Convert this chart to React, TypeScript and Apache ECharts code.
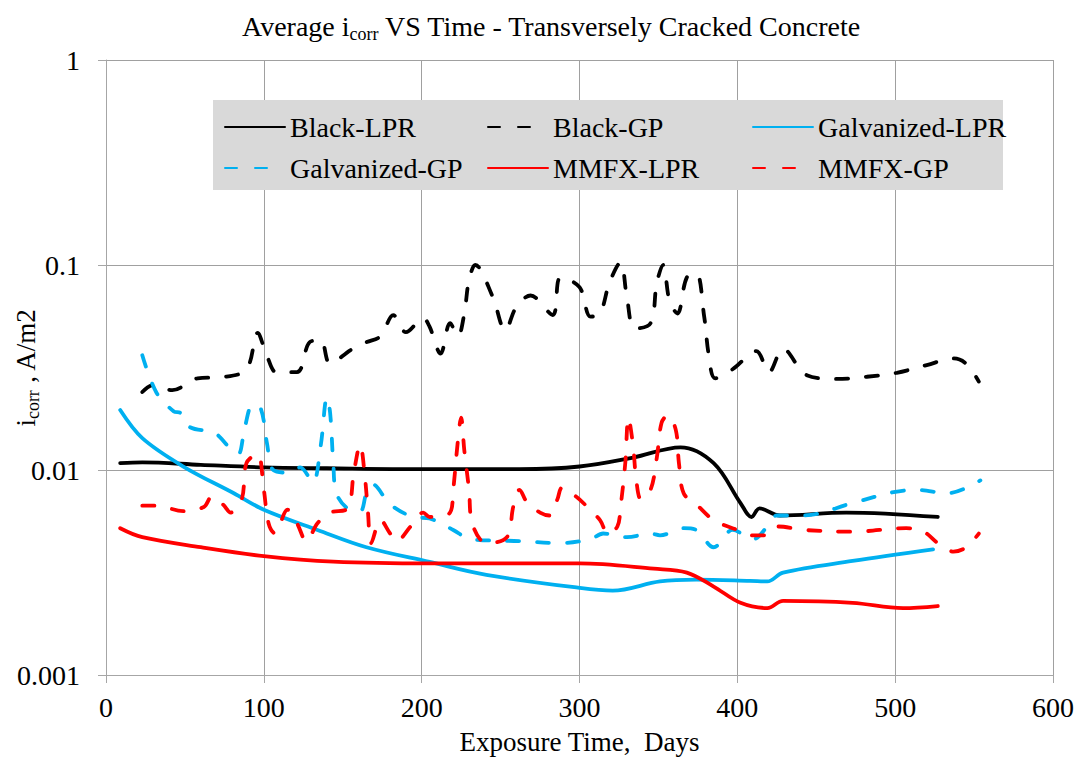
import React, { useEffect, useRef } from "react";
import * as echarts from "echarts";

const FONT = "Liberation Serif";

const xTicks = [0, 100, 200, 300, 400, 500, 600];
const yTicks = [0.001, 0.01, 0.1, 1];

const blackLprX = [9, 23, 60, 100, 140, 200, 262, 300, 334, 364, 385, 402, 409, 414, 427, 469, 527];
const blackLprY = [0.0108, 0.0109, 0.0106, 0.0103, 0.0102, 0.0101, 0.0101, 0.0104, 0.0115, 0.0129, 0.0108, 0.0069, 0.0059, 0.0065, 0.006, 0.0062, 0.0059];

const blackGpX = [23, 30, 42, 58, 74, 89, 96, 102, 108, 121, 129, 136, 142, 155, 165, 174, 182, 190, 201, 205, 212, 218, 223, 227, 230, 234, 245, 253, 260, 269, 283, 288, 300, 307, 313, 319, 326, 330, 335, 345, 349, 353, 357, 362, 368, 374, 379, 382, 386, 397, 412, 420, 429, 444, 463, 482, 501, 520, 537, 545, 553];
const blackGpY = [0.024, 0.026, 0.0245, 0.028, 0.0284, 0.031, 0.0466, 0.036, 0.03, 0.03, 0.042, 0.043, 0.033, 0.0385, 0.042, 0.045, 0.057, 0.047, 0.055, 0.05, 0.037, 0.052, 0.045, 0.058, 0.0845, 0.1, 0.07, 0.048, 0.0625, 0.071, 0.057, 0.087, 0.078, 0.056, 0.058, 0.082, 0.103, 0.07, 0.049, 0.052, 0.082, 0.1, 0.067, 0.058, 0.087, 0.091, 0.056, 0.036, 0.028, 0.031, 0.038, 0.03, 0.039, 0.029, 0.0278, 0.0285, 0.0298, 0.0325, 0.035, 0.033, 0.027];

const galvLprX = [9, 23, 49, 81, 100, 134, 165, 205, 241, 300, 321, 351, 374, 408, 419, 429, 473, 524];
const galvLprY = [0.0196, 0.0143, 0.0104, 0.0077, 0.0064, 0.0051, 0.0042, 0.00356, 0.00308, 0.00266, 0.00258, 0.00286, 0.00292, 0.00288, 0.00286, 0.00316, 0.0036, 0.0041];

const galvGpX = [23, 32, 43, 47, 53, 68, 72, 81, 84, 88, 93, 98, 102, 106, 117, 123, 131, 136, 140, 142, 144, 146, 153, 161, 165, 169, 180, 195, 205, 220, 231, 262, 288, 307, 315, 330, 345, 351, 366, 374, 385, 397, 410, 419, 425, 442, 473, 499, 514, 533, 554];
const galvGpY = [0.0363, 0.0238, 0.0193, 0.019, 0.0162, 0.0153, 0.0145, 0.0122, 0.012, 0.0162, 0.0208, 0.02, 0.0135, 0.01, 0.0097, 0.0103, 0.0087, 0.0131, 0.0226, 0.019, 0.0108, 0.0077, 0.0065, 0.0063, 0.0077, 0.0085, 0.0068, 0.0059, 0.0058, 0.0051, 0.0046, 0.0045, 0.0044, 0.0046, 0.0049, 0.0047, 0.0049, 0.0048, 0.0052, 0.0051, 0.0042, 0.0051, 0.0046, 0.0053, 0.006, 0.006, 0.0069, 0.0078, 0.008, 0.0077, 0.0089];

const mmfxLprX = [9, 23, 60, 100, 144, 205, 300, 347, 368, 385, 402, 419, 429, 473, 505, 527];
const mmfxLprY = [0.0052, 0.0047, 0.0042, 0.0038, 0.00357, 0.0035, 0.0035, 0.0033, 0.00316, 0.0027, 0.00225, 0.00212, 0.0023, 0.00225, 0.00212, 0.00217];

const mmfxGpX = [23, 32, 49, 62, 67, 74, 79, 86, 89, 96, 100, 103, 107, 115, 121, 127, 134, 142, 153, 157, 161, 164, 166, 168, 174, 180, 184, 193, 201, 205, 218, 220, 223, 225, 227, 230, 232, 241, 254, 258, 262, 267, 275, 281, 286, 289, 298, 305, 313, 318, 324, 326, 329, 331, 334, 336, 339, 345, 349, 352, 356, 361, 363, 366, 374, 385, 400, 410, 419, 426, 442, 473, 507, 518, 527, 537, 545, 553];
const mmfxGpY = [0.0067, 0.0067, 0.0063, 0.0066, 0.0074, 0.0068, 0.0062, 0.0072, 0.0108, 0.012, 0.008, 0.0055, 0.0049, 0.0064, 0.0055, 0.0045, 0.0055, 0.0062, 0.0065, 0.0097, 0.0133, 0.0093, 0.0062, 0.0044, 0.0057, 0.0049, 0.0045, 0.0053, 0.0062, 0.0059, 0.0062, 0.008, 0.014, 0.018, 0.0125, 0.008, 0.0055, 0.0044, 0.0047, 0.0066, 0.008, 0.0069, 0.0062, 0.006, 0.0072, 0.0082, 0.0074, 0.0066, 0.0057, 0.0049, 0.0053, 0.0066, 0.0108, 0.018, 0.013, 0.0089, 0.0072, 0.008, 0.0115, 0.017, 0.0185, 0.0157, 0.0108, 0.0077, 0.0068, 0.0057, 0.0051, 0.0048, 0.0048, 0.0053, 0.0051, 0.005, 0.0052, 0.005, 0.0044, 0.004, 0.0042, 0.0049];

const seriesNames = ["Black-LPR", "Black-GP", "Galvanized-LPR", "Galvanized-GP", "MMFX-LPR", "MMFX-GP"];
const BLACK = "#000000";
const BLUE = "#00B0F0";
const RED = "#FF0000";

function pairs(xs: number[], ys: number[]) {
  return xs.map((x, i) => [x, ys[i]]);
}

export default function App() {
  const ref = useRef<HTMLDivElement>(null);
  useEffect(() => {
    if (!ref.current) return;
    const chart = echarts.init(ref.current, null, { renderer: "svg" });
    const dash = [12, 18];
    const mk = (name: string, xs: number[], ys: number[], color: string, dashed: boolean) => ({
      name,
      type: "line",
      data: pairs(xs, ys),
      smooth: 0.35,
      showSymbol: false,
      symbol: "none",
      lineStyle: { color, width: 3.8, type: dashed ? dash : "solid", cap: "round" },
      itemStyle: { color },
      z: 3,
    });
    const legendPos = [
      { left: 224, top: 113 },
      { left: 487, top: 113 },
      { left: 752, top: 113 },
      { left: 224, top: 154 },
      { left: 487, top: 154 },
      { left: 752, top: 154 },
    ];
    const txt = (size: number) => ({ fontFamily: FONT, fontSize: size, color: "#000", fontWeight: "normal" });
    chart.setOption({
      animation: false,
      backgroundColor: "#ffffff",
      textStyle: { fontFamily: FONT },
      title: {
        text: "{a|Average i}{s|corr}{a| VS Time - Transversely Cracked Concrete}",
        left: 237,
        top: 4,
        textStyle: {
          fontFamily: FONT,
          fontWeight: "normal",
          rich: {
            a: { ...txt(28), lineHeight: 34 },
            s: { ...txt(18), verticalAlign: "bottom", lineHeight: 18 },
          },
        },
      },
      graphic: [
        {
          type: "rect",
          shape: { x: 213, y: 100, width: 790, height: 90 },
          style: { fill: "#D9D9D9" },
          z: 10,
        },
      ],
      legend: seriesNames.map((n, i) => ({
        data: [n],
        left: legendPos[i].left,
        top: legendPos[i].top,
        itemWidth: 60,
        itemHeight: 14,
        itemGap: 0,
        padding: 0,
        z: 20,
        itemStyle: { opacity: 0 },
        textStyle: txt(28),
      })),
      grid: { left: 106, right: 27, top: 60, bottom: 85, containLabel: false, outerBoundsMode: "none" },
      xAxis: {
        type: "value",
        min: xTicks[0],
        max: xTicks[xTicks.length - 1],
        interval: 100,
        name: "Exposure Time,  Days",
        nameLocation: "middle",
        nameGap: 53,
        nameMoveOverlap: false,
        nameTextStyle: txt(27),
        axisLine: { lineStyle: { color: "#A6A6A6", width: 1 } },
        axisTick: { show: true, length: 8, lineStyle: { color: "#A6A6A6" } },
        axisLabel: { ...txt(28), margin: 18 },
        splitLine: { show: true, lineStyle: { color: "#A0A0A0", width: 1 } },
      },
      yAxis: {
        type: "log",
        logBase: 10,
        min: yTicks[0],
        max: yTicks[yTicks.length - 1],
        name: "{a|i}{s|corr}{a| , A/m2}",
        nameLocation: "middle",
        nameRotate: 90,
        nameGap: 64,
        nameMoveOverlap: false,
        nameTextStyle: {
          fontFamily: FONT,
          fontWeight: "normal",
          rich: {
            a: { ...txt(27), lineHeight: 32 },
            s: { ...txt(18), verticalAlign: "bottom", lineHeight: 18 },
          },
        },
        axisLine: { show: true, lineStyle: { color: "#A6A6A6", width: 1 } },
        axisTick: { show: true, length: 8, lineStyle: { color: "#A6A6A6" } },
        axisLabel: {
          ...txt(28),
          margin: 26,
          formatter: (v: number) => {
            const t = yTicks.find((y) => Math.abs(y - v) / y < 1e-6);
            return t !== undefined ? String(t) : "";
          },
        },
        splitLine: { show: true, lineStyle: { color: "#A0A0A0", width: 1 } },
      },
      series: [
        mk(seriesNames[0], blackLprX, blackLprY, BLACK, false),
        mk(seriesNames[1], blackGpX, blackGpY, BLACK, true),
        mk(seriesNames[2], galvLprX, galvLprY, BLUE, false),
        mk(seriesNames[3], galvGpX, galvGpY, BLUE, true),
        mk(seriesNames[4], mmfxLprX, mmfxLprY, RED, false),
        mk(seriesNames[5], mmfxGpX, mmfxGpY, RED, true),
      ],
    });
    return () => chart.dispose();
  }, []);
  return (
    <div
      ref={ref}
      style={{ position: "fixed", left: 0, top: 0, width: 1080, height: 760, background: "#fff" }}
    />
  );
}
